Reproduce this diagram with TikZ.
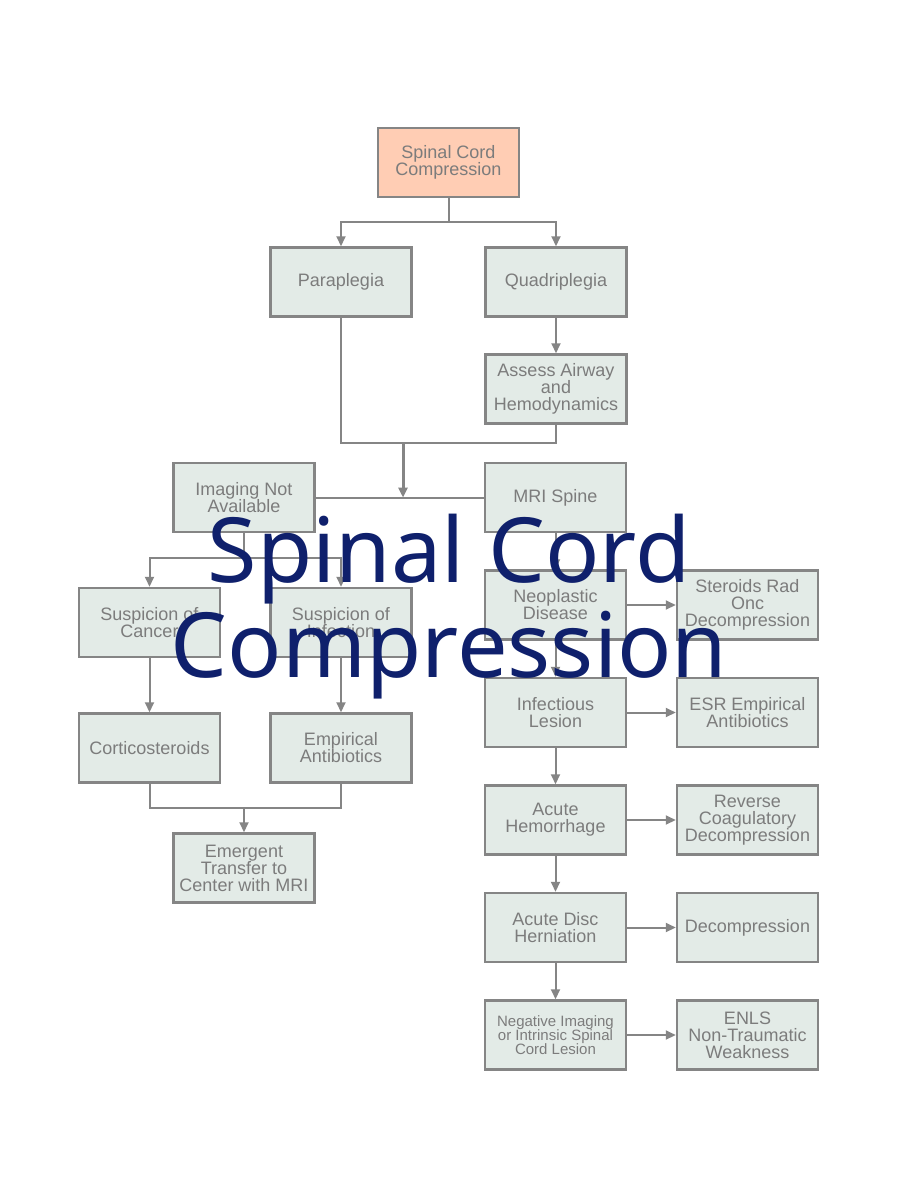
\documentclass[tikz,border=0pt]{standalone}
\usepackage{fontspec}
\setmainfont{Liberation Sans}
\newfontfamily\titlefont{Noto Sans}
\usetikzlibrary{arrows.meta}
\definecolor{boxfill}{HTML}{E3EBE7}
\definecolor{rootfill}{HTML}{FFCDB4}
\definecolor{edgegray}{HTML}{858585}
\definecolor{txtgray}{HTML}{7C7C7C}
\definecolor{navy}{HTML}{0F206C}
\tikzset{
  box/.style={draw=edgegray, line width=2.5pt, fill=boxfill, minimum width=141pt, minimum height=69pt,
    inner sep=0pt, align=center, text=txtgray, font=\fontsize{18}{17}\selectfont},
  rootbox/.style={box, fill=rootfill},
  conn/.style={draw=edgegray, line width=2pt},
  arr/.style={conn, -{Triangle[length=10pt,width=9pt]}},
  bigtitle/.style={text=navy, font=\titlefont\fontsize{90}{95}\selectfont, inner sep=0pt, anchor=base}
}
\begin{document}
\begin{tikzpicture}[x=1pt,y=-1pt]
\useasboundingbox (0,0) rectangle (900,1200);
\fill[white] (0,0) rectangle (900,1200);
% nodes
\node[rootbox] (scc) at (448.5,162.5) {Spinal Cord\\Compression};
\node[box] (para) at (341,282) {Paraplegia};
\node[box] (quad) at (556,282) {Quadriplegia};
\node[box] (assess) at (556,389) {Assess Airway\\and\\Hemodynamics};
\node[box] (ina) at (244,497.5) {Imaging Not\\Available};
\node[box] (mri) at (555.5,497.5) {MRI Spine};
\node[box] (soc) at (149.5,622.5) {Suspicion of\\Cancer};
\node[box] (soi) at (341,622.5) {Suspicion of\\Infection};
\node[box] (cort) at (149.5,748) {Corticosteroids};
\node[box] (emp) at (341,748) {Empirical\\Antibiotics};
\node[box] (emer) at (244,868) {Emergent\\Transfer to\\Center with MRI};
\node[box] (neo) at (555.5,605) {Neoplastic\\Disease};
\node[box] (srod) at (747.5,605) {Steroids Rad\\Onc\\Decompression};
\node[box] (inf) at (555.5,712.5) {Infectious\\Lesion};
\node[box] (esr) at (747.5,712.5) {ESR Empirical\\Antibiotics};
\node[box] (hem) at (555.5,820) {Acute\\Hemorrhage};
\node[box] (rcd) at (747.5,820) {Reverse\\Coagulatory\\Decompression};
\node[box] (disc) at (555.5,927.5) {Acute Disc\\Herniation};
\node[box] (dec) at (747.5,927.5) {Decompression};
\node[box, font=\fontsize{15}{14}\selectfont] (neg) at (555.5,1035) {Negative Imaging\\or Intrinsic Spinal\\Cord Lesion};
\node[box] (enls) at (747.5,1035) {ENLS\\Non-Traumatic\\Weakness};
% connectors
\coordinate (j1) at (448.5,222);
\draw[conn] (scc.south) -- (j1);
\draw[arr] (j1) -| (para.north);
\draw[arr] (j1) -| (quad.north);
\draw[arr] (quad.south) -- (assess.north);
\coordinate (j2l) at (341,443);
\coordinate (j2r) at (556,443);
\draw[conn] (para.south) -- (j2l) -- (j2r) -- (assess.south);
\coordinate (j2) at (403,443);
\coordinate (j3) at (403,497.5);
\draw[conn] (ina.east) -- (mri.west);
\draw[arr, line width=3pt] (j2) -- (j3);
\coordinate (j4) at (244,558);
\draw[conn] (ina.south) -- (j4);
\draw[arr] (j4) -| (soc.north);
\draw[arr] (j4) -| (soi.north);
\draw[arr] (soc.south) -- (cort.north);
\draw[arr] (soi.south) -- (emp.north);
\coordinate (j5l) at (149.5,808);
\coordinate (j5r) at (341,808);
\coordinate (j5) at (244,808);
\draw[conn] (cort.south) -- (j5l) -- (j5r) -- (emp.south);
\draw[arr] (j5) -- (emer.north);
\draw[arr] (mri.south) -- (neo.north);
\draw[arr] (neo.south) -- (inf.north);
\draw[arr] (inf.south) -- (hem.north);
\draw[arr] (hem.south) -- (disc.north);
\draw[arr] (disc.south) -- (neg.north);
\draw[arr] (neo.east) -- (srod.west);
\draw[arr] (inf.east) -- (esr.west);
\draw[arr] (hem.east) -- (rcd.west);
\draw[arr] (disc.east) -- (dec.west);
\draw[arr] (neg.east) -- (enls.west);
% overlay title
\node[bigtitle] (t1) at (449,582) {Spinal Cord};
\node[bigtitle] (t2) at (449,677) {Compression};
\end{tikzpicture}
\end{document}
